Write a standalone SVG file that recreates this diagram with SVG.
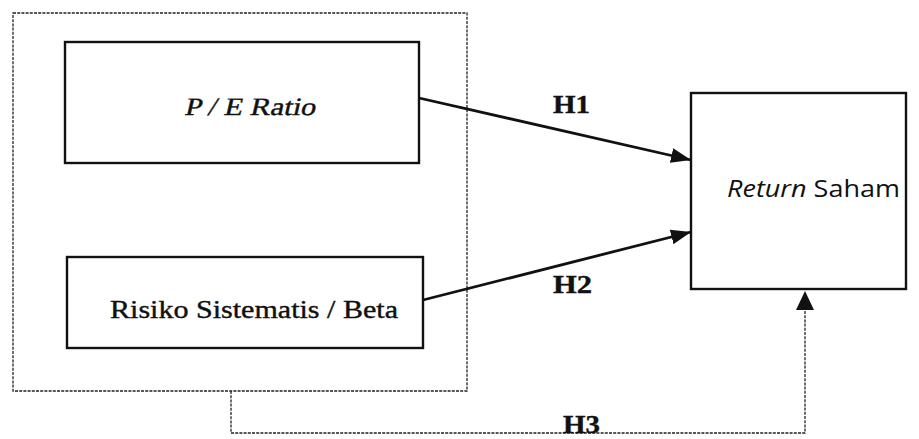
<svg xmlns="http://www.w3.org/2000/svg" width="919" height="439" viewBox="0 0 919 439">
<style>
.box{fill:#fff;stroke:#111;stroke-width:2.4}
.outer{fill:none;stroke:#222;stroke-width:1.3;stroke-dasharray:3 1.2}
.dash{fill:none;stroke:#222;stroke-width:1.3;stroke-dasharray:3 1.2}
.serif{font-family:"Liberation Serif","Times New Roman",serif;fill:#111;stroke:#111;stroke-width:0.4}
.sans{font-family:"Open Sans","DejaVu Sans",sans-serif;fill:#111}
.lbl{font-family:"Liberation Serif","Times New Roman",serif;font-weight:bold;font-size:26px;fill:#111;stroke:#111;stroke-width:0.4}
.arr{stroke:#111;stroke-width:2.8;fill:none}
</style>
<defs>
<marker id="ah2" viewBox="0 0 10 10" refX="10" refY="5" markerWidth="20" markerHeight="15" markerUnits="userSpaceOnUse" orient="auto" preserveAspectRatio="none">
<path d="M0,0 L10,5 L0,10 z" fill="#111"/>
</marker>
</defs>
<g id="group-box">
<rect class="outer" x="13" y="13" width="454" height="378"/>
</g>
<g id="connectors">
<line class="arr" x1="419" y1="98" x2="691" y2="160" marker-end="url(#ah2)"/>
<line class="arr" x1="423" y1="300" x2="691" y2="232" marker-end="url(#ah2)"/>
<path class="dash" d="M231,391 L231,433 L805,433 L805,305"/>
<path d="M805,291 L796,310 L814,310 z" fill="#111"/>
<text class="lbl" x="553" y="113" textLength="37" lengthAdjust="spacingAndGlyphs">H1</text>
<text class="lbl" x="553" y="293" textLength="39" lengthAdjust="spacingAndGlyphs">H2</text>
<text class="lbl" x="563" y="433" textLength="37" lengthAdjust="spacingAndGlyphs">H3</text>
</g>
<g id="node-pe">
<rect class="box" x="65" y="42" width="354" height="121"/>
<text class="serif" transform="translate(184,115) skewX(-13)" x="0" y="0" font-size="25" textLength="131" lengthAdjust="spacingAndGlyphs">P / E Ratio</text>
</g>
<g id="node-risiko">
<rect class="box" x="67" y="257" width="356" height="91"/>
<text class="serif" x="110" y="318" font-size="25" textLength="288" lengthAdjust="spacingAndGlyphs">Risiko Sistematis / Beta</text>
</g>
<g id="node-return">
<rect class="box" x="691" y="93" width="215" height="196"/>
<text class="sans" x="727" y="197" font-size="23" textLength="173" lengthAdjust="spacingAndGlyphs"><tspan font-style="italic">Return</tspan> Saham</text>
</g>
</svg>
